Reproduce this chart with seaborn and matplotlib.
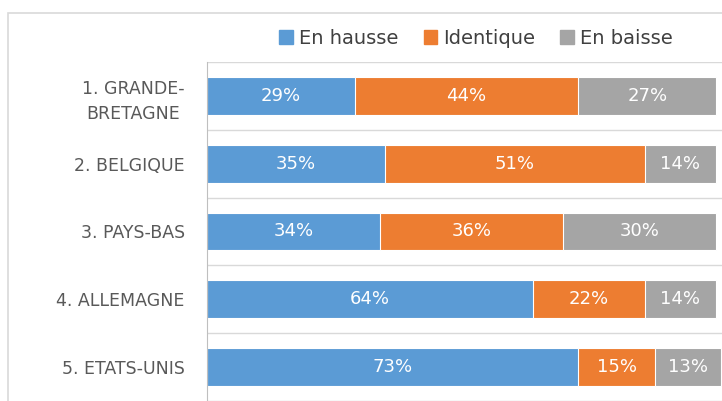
import matplotlib
matplotlib.use("Agg")
import matplotlib.pyplot as plt
from matplotlib.patches import Patch, Rectangle
import seaborn as sns
import pandas as pd
import numpy as np

# data
countries = ["1. GRANDE-\nBRETAGNE", "2. BELGIQUE", "3. PAYS-BAS", "4. ALLEMAGNE", "5. ETATS-UNIS"]
en_hausse = [29, 35, 34, 64, 73]
identique = [44, 51, 36, 22, 15]
en_baisse = [27, 14, 30, 14, 13]
series_names = ["En hausse", "Identique", "En baisse"]
colors = ["#5B9BD5", "#ED7D31", "#A5A5A5"]

sns.set_style("white")
plt.rcParams["font.family"] = ["DejaVu Sans"]

df = pd.DataFrame({"pays": countries, "hausse": en_hausse,
                   "identique": identique, "baisse": en_baisse})
df["c1"] = df["hausse"]
df["c2"] = df["hausse"] + df["identique"]
df["c3"] = df["c2"] + df["baisse"]

fig = plt.figure(figsize=(7.22, 4.01), dpi=100)
ax = fig.add_axes([207 / 722, 0, 1 - 207 / 722, 1 - 62 / 401])

# stacked bars drawn as overlapping cumulative totals
for col, color in zip(["c3", "c2", "c1"], colors[::-1]):
    sns.barplot(data=df, x=col, y="pays", color=color, orient="h", saturation=1,
                width=0.56, edgecolor="white", linewidth=0.8, ax=ax)

# value labels
for i in range(len(df)):
    starts = [0, df["c1"][i], df["c2"][i]]
    vals = [df["hausse"][i], df["identique"][i], df["baisse"][i]]
    for s, v in zip(starts, vals):
        ax.text(s + v / 2, i, f"{v}%", ha="center", va="center",
                color="white", fontsize=13)

ax.set_xlim(0, 101.2)
ax.set_ylim(4.5, -0.5)
ax.set_xlabel("")
ax.set_ylabel("")
ax.set_xticks([])
for k in np.arange(-0.5, 5, 1):
    ax.axhline(k, color="#D9D9D9", lw=1, zorder=0)
for s in ["top", "right", "bottom"]:
    ax.spines[s].set_visible(False)
ax.spines["left"].set_color("#BFBFBF")
ax.tick_params(axis="y", length=0, pad=16)
ax.set_yticks(range(len(countries)))
ax.set_yticklabels(countries, color="#595959", fontsize=12.5, linespacing=1.5)
for lab in ax.get_yticklabels():
    lab.set_multialignment("center")

handles = [Patch(color=c, label=n) for c, n in zip(colors, series_names)]
fig.legend(handles=handles, loc="center", bbox_to_anchor=(476 / 722, 1 - 38 / 401),
           ncol=3, frameon=False, fontsize=14, handlelength=0.7, handleheight=0.7,
           handletextpad=0.3, columnspacing=1.3, labelcolor="#404040")

# outer chart frame (cut off at the right and bottom)
fig.patches.append(Rectangle((8 / 722, -0.1), 1.0, 1.1 - 13 / 401,
                             transform=fig.transFigure, fill=False,
                             edgecolor="#D9D9D9", lw=1.2))

fig.savefig("out.png", dpi=100)
